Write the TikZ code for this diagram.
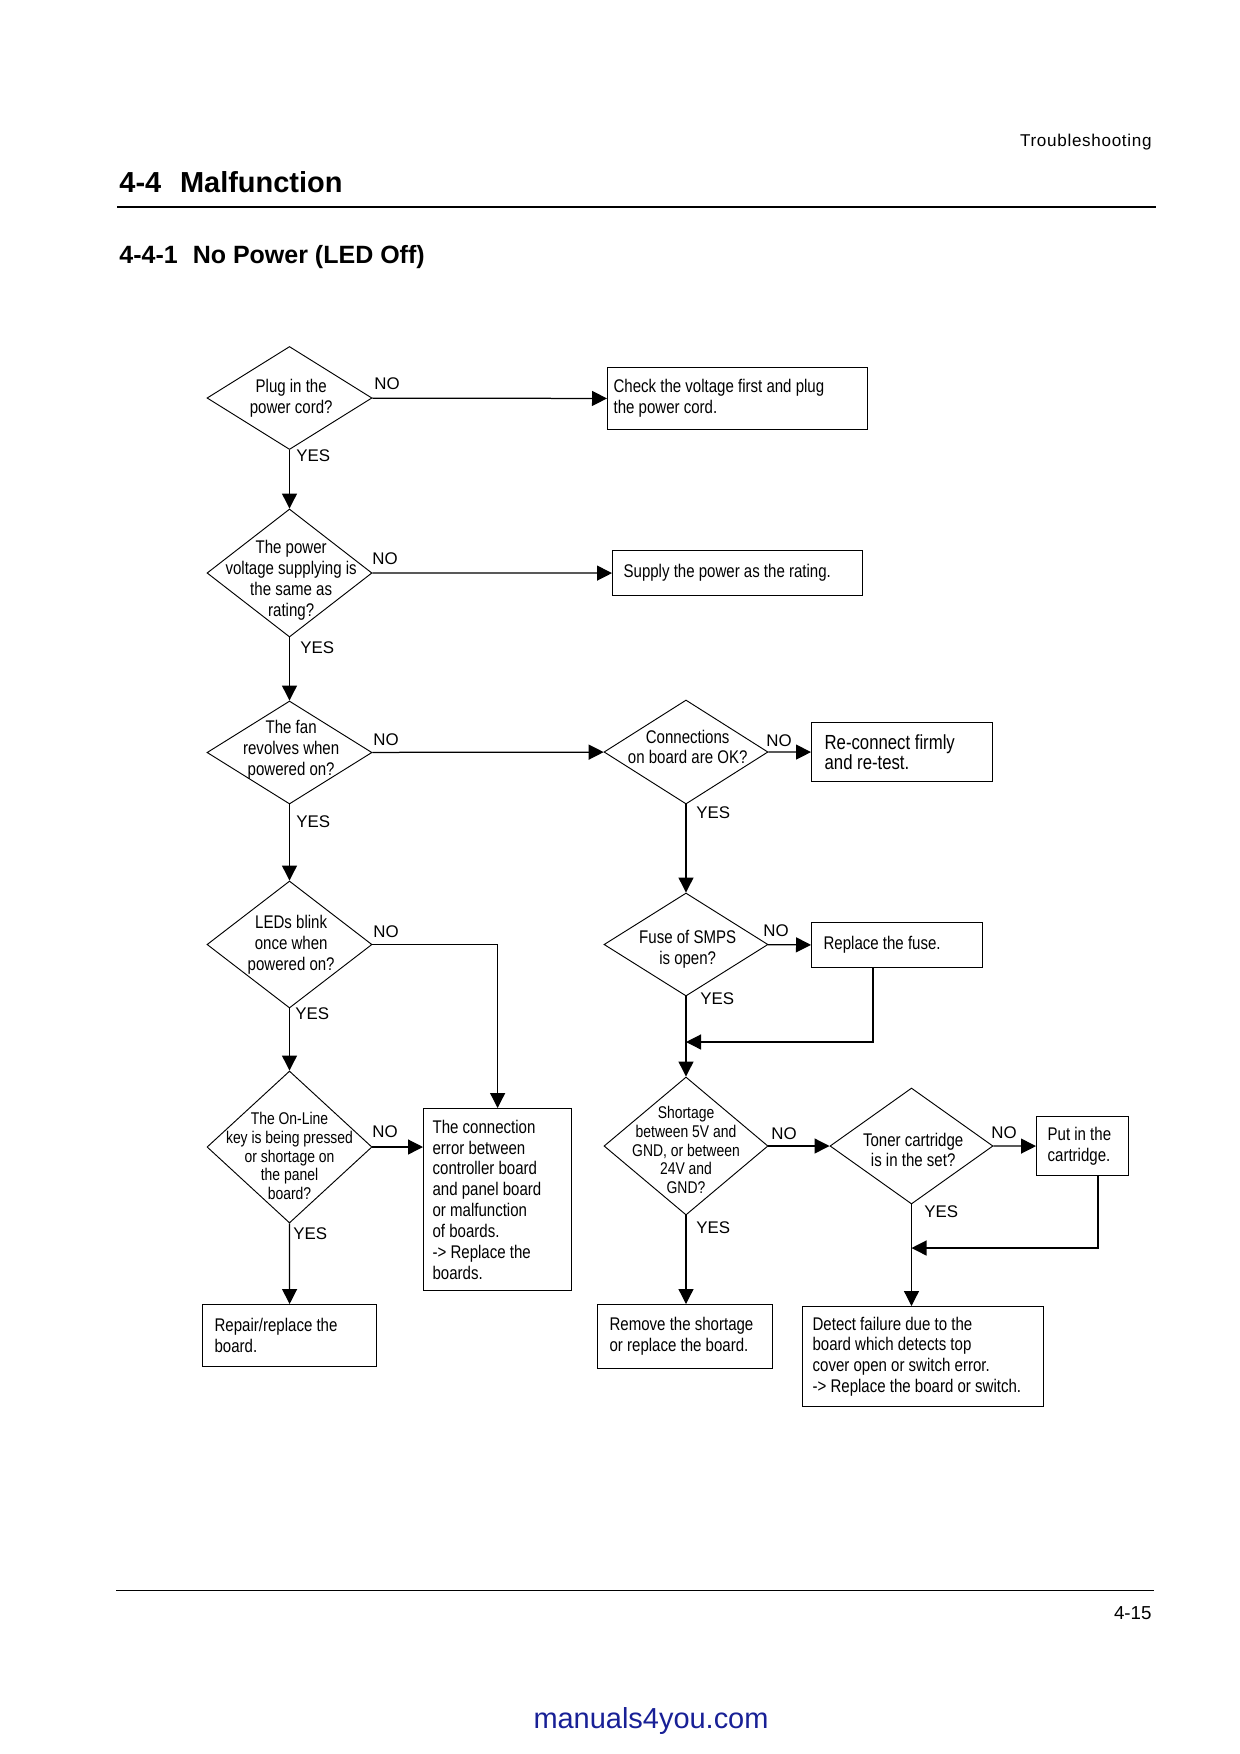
\documentclass[tikz,border=0pt]{standalone}
\usepackage{fontspec}
\setmainfont{Liberation Sans}
\newfontfamily\narrowfont[FakeStretch=0.82]{Liberation Sans}
\usetikzlibrary{shapes.geometric,arrows.meta,positioning}
\newdimen\px
\px=0.48pt
\definecolor{linkblue}{RGB}{24,32,150}
\newcommand\chartfont{\narrowfont\fontsize{8.8}{10}\selectfont}
\newcommand\chartsmall{\narrowfont\fontsize{8.15}{8.95}\selectfont}
\tikzset{
    decision/.style={diamond, draw, line width=0.45pt, inner sep=0pt,
        minimum width=165\px, minimum height=103\px},
    dtext/.style={align=center, inner sep=0pt, font=\chartfont, xshift=0.8pt},
    dsmall/.style={align=center, inner sep=0pt, font=\chartsmall},
    action/.style={draw, line width=0.6pt, anchor=north west, align=flush left,
        inner ysep=0pt, font=\chartfont},
    answer/.style={anchor=base west, inner sep=0pt, font=\fontsize{8.1}{10}\selectfont},
    arrow/.style={-{Triangle[length=7.2pt,width=7.2pt]}, line width=0.6pt},
    pagetext/.style={inner sep=0pt, font=\fontsize{8.2}{10}\selectfont\addfontfeature{LetterSpace=4}}
}
\begin{document}
\begin{tikzpicture}[x=0.48pt, y=-0.48pt]
\useasboundingbox (0,0) rectangle (1240,1754);

% ============ Page header ============
\node[pagetext, anchor=base east] (hdr) at (1152,146) {Troubleshooting};
\node[anchor=base west, inner sep=0pt, font=\bfseries\fontsize{13.9}{17}\selectfont] (sec)
    at (119,192) {4-4\hspace{0.65em}Malfunction};
\draw[line width=0.95pt] (117,207) -- (1156,207);
\node[anchor=base west, inner sep=0pt, font=\bfseries\fontsize{12}{15}\selectfont] (subsec)
    at (119,263) {4-4-1\hspace{0.6em}No Power (LED Off)};

% ============ Decisions ============
\node[decision, label={[dtext]center:{Plug in the\\power cord?}}] (plug) at (289.5,398) {};
\node[decision, minimum height=128\px,
    label={[dtext,yshift=-3.4pt]center:{The power\\voltage supplying is\\the same as\\rating?}}] (volt) at (289.5,573) {};
\node[decision, label={[dtext,yshift=1.4pt]center:{The fan\\revolves when\\powered on?}}] (fan) at (289.5,752.5) {};
\node[decision, minimum height=127\px,
    label={[dtext]center:{LEDs blink\\once when\\powered on?}}] (led) at (289.5,944.5) {};
\node[decision, minimum height=152\px,
    label={[dsmall,yshift=-4.3pt]center:{The On-Line\\key is being pressed\\or shortage on\\the panel\\board?}}] (online) at (289.5,1147) {};

\node[decision, minimum width=164\px, minimum height=104\px,
    label={[dtext,yshift=2.4pt]center:{Connections\\on board are OK?}}] (conok) at (686,752) {};
\node[decision, minimum width=164\px,
    label={[dtext,yshift=-2.4pt]center:{Fuse of SMPS\\is open?}}] (smps) at (686,944.5) {};
\node[decision, minimum width=164\px, minimum height=138\px,
    label={[dsmall,yshift=-1.9pt]center:{Shortage\\between 5V and\\GND, or between\\24V and\\GND?}}] (short) at (686,1146) {};
\node[decision, minimum width=163\px, minimum height=116\px,
    label={[dtext,yshift=-1.9pt]center:{Toner cartridge\\is in the set?}}] (toner) at (911.5,1146) {};

% ============ Actions ============
\node[action, minimum width=260\px, minimum height=62\px, text width=248\px, inner xsep=6\px] (chk)
    at (607,367) {Check the voltage first and plug\\the power cord.};
\node[action, minimum width=250\px, minimum height=45\px, text width=228\px, inner xsep=11\px] (supply)
    at (612,550) {Supply the power as the rating.};
\node[action, minimum width=181\px, minimum height=59\px, text width=155\px, inner xsep=13\px,
    font=\narrowfont\fontsize{9.8}{10}\selectfont] (recon)
    at (811,722) {Re-connect firmly\\and re-test.};
\node[action, minimum width=171\px, minimum height=45\px, text width=147\px, inner xsep=12\px] (fuse)
    at (811,922) {Replace the fuse.};
\node[action, minimum width=148\px, minimum height=182\px, text width=130\px, inner xsep=9\px] (conerr)
    at (423,1108) {The connection\\error between\\controller board\\and panel board\\or malfunction\\of boards.\\-> Replace the\\boards.};
\node[action, minimum width=174\px, minimum height=62\px, text width=150\px, inner xsep=12\px] (repair)
    at (202,1304) {Repair/replace the\\board.};
\node[action, minimum width=175\px, minimum height=64\px, text width=151\px, inner xsep=12\px] (remove)
    at (597,1304) {Remove the shortage\\or replace the board.};
\node[action, minimum width=92\px, minimum height=59\px, text width=70\px, inner xsep=11\px] (putin)
    at (1036,1116) {Put in the\\cartridge.};
\node[action, minimum width=241\px, minimum height=100\px, text width=221\px, inner xsep=10\px] (detect)
    at (802,1306) {Detect failure due to the\\board which detects top\\cover open or switch error.\\-> Replace the board or switch.};

% ============ Arrows ============
\draw[arrow] (plug) -- (volt);
\draw[arrow] (volt) -- (fan);
\draw[arrow] (fan) -- (led);
\draw[arrow] (led) -- (online);
\draw[arrow] (online) -- (repair);

\draw[arrow] (plug) -- (chk);
\draw[arrow] (volt) -- (supply);
\draw[arrow] (fan) -- (conok);
\draw[arrow] (led.east) -| (conerr.north);
\draw[arrow] (online.east) -- (online.east -| conerr.west);

\draw[arrow] (conok) -- (recon);
\draw[arrow] (conok) -- (smps);
\draw[arrow] (smps) -- (fuse);
\draw[arrow] (smps) -- (short);
\draw[arrow] (short.south) -- (short.south |- remove.north);
\draw[arrow] (short) -- (toner);
\draw[arrow] (toner) -- (putin);
\draw[arrow] (toner.south) -- (toner.south |- detect.north);

% loops back
\coordinate (fusejoin) at (686,1042);
\coordinate (tonerjoin) at (911.5,1248);
\draw[arrow] ([xshift=62\px]fuse.south west) |- (fusejoin);
\draw[arrow] ([xshift=62\px]putin.south west) |- (tonerjoin);

% Labels
\node[answer] (plugno) at (374,389) {NO};
\node[answer] (plugyes) at (296,461) {YES};
\node[answer] (voltno) at (372,564) {NO};
\node[answer] (voltyes) at (300,653) {YES};
\node[answer] (fanno) at (373,745) {NO};
\node[answer] (fanyes) at (296,827) {YES};
\node[answer] (ledno) at (373,937) {NO};
\node[answer] (ledyes) at (295,1019) {YES};
\node[answer] (onlineno) at (372,1137) {NO};
\node[answer] (onlineyes) at (293,1239) {YES};
\node[answer] (conokno) at (766,746) {NO};
\node[answer] (conokyes) at (696,818) {YES};
\node[answer] (smpsno) at (763,936) {NO};
\node[answer] (smpsyes) at (700,1004) {YES};
\node[answer] (shortno) at (771,1139) {NO};
\node[answer] (shortyes) at (696,1233) {YES};
\node[answer] (tonerno) at (991,1138) {NO};
\node[answer] (toneryes) at (924,1217) {YES};

% ============ Page footer ============
\draw[line width=0.5pt] (116,1590) -- (1154,1590);
\node[pagetext, anchor=base east, font=\fontsize{9}{10}\selectfont] (pgno) at (1152,1619) {4-15};
\node[anchor=base, inner sep=0pt, font=\fontsize{13.9}{16}\selectfont, text=linkblue] (site)
    at (651,1728) {manuals4you.com};

\end{tikzpicture}
\end{document}
